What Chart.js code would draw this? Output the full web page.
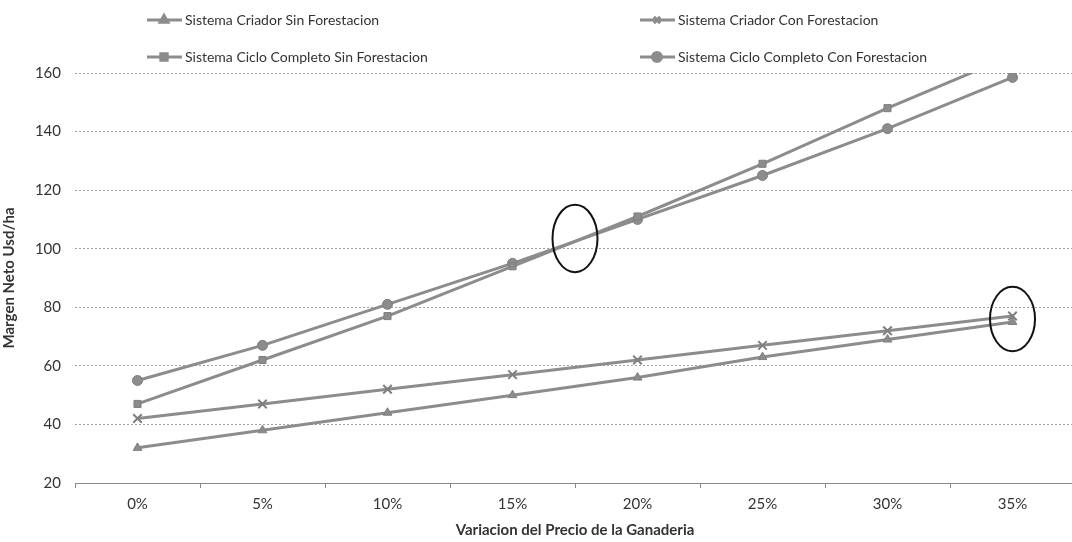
<!DOCTYPE html>
<html>
<head>
<meta charset="utf-8">
<script src="https://cdn.jsdelivr.net/npm/chart.js@4/dist/chart.umd.min.js"></script>
<style>
  html, body { margin: 0; padding: 0; background: #fff; overflow: hidden; }
  #wrap { width: 1083px; height: 542px; }
</style>
</head>
<body>
<div id="wrap"><canvas id="myChart"></canvas></div>
<script>
// categorias (eje x)
const categorias = ['0%', '5%', '10%', '15%', '20%', '25%', '30%', '35%'];

// series
const criadorSin = [32, 38, 44, 50, 56, 63, 69, 75];
const criadorCon = [42, 47, 52, 57, 62, 67, 72, 77];
const cicloSin = [47, 62, 77, 94, 111, 129, 148, 166];
const cicloCon = [55, 67, 81, 95, 110, 125, 141, 158.5];

const nombres = [
    'Sistema Criador Sin Forestacion',
    'Sistema Criador Con Forestacion',
    'Sistema Ciclo Completo Sin Forestacion',
    'Sistema Ciclo Completo Con Forestacion'
];

// elipses marcadas en el grafico: [indice x, valor y, radio x (categorias), radio y (valor)]
const elipses = [
    [3.5, 103.5, 0.18, 11.5],
    [7, 76, 0.18, 11]
];

const gris = '#8c8c8c';
const fuente = 'Lato, "Open Sans", sans-serif';

function serie(label, data, estilo) {
    return {
        label: label,
        data: data,
        borderColor: gris,
        backgroundColor: gris,
        borderWidth: 3,
        pointStyle: estilo,
        pointRadius: estilo === 'crossRot' ? 6 : 5,
        pointBorderWidth: estilo === 'crossRot' ? 2 : 1,
        pointBorderColor: '#7f7f7f',
        tension: 0
    };
}

// leyenda en dos columnas
const leyenda = {
    id: 'leyenda',
    afterDraw(chart) {
        const ctx = chart.ctx;
        const cols = [147, 640];
        const filas = [20, 57];
        chart.data.datasets.forEach((ds, i) => {
            const x = cols[i % 2];
            const y = filas[Math.floor(i / 2)];
            ctx.save();
            ctx.strokeStyle = gris;
            ctx.lineWidth = 3;
            ctx.beginPath();
            ctx.moveTo(x, y);
            ctx.lineTo(x + 35, y);
            ctx.stroke();
            ctx.fillStyle = gris;
            Chart.helpers.drawPoint(ctx, {
                pointStyle: ds.pointStyle,
                radius: 4.5,
                rotation: 0,
                borderWidth: ds.pointStyle === 'crossRot' ? 1.5 : 1
            }, x + 17, y);
            ctx.fillStyle = '#333';
            ctx.font = '14px ' + fuente;
            ctx.textBaseline = 'middle';
            ctx.fillText(ds.label, x + 38, y);
            ctx.restore();
        });
    }
};

const elipsesPlugin = {
    id: 'elipses',
    afterDatasetsDraw(chart) {
        const ctx = chart.ctx;
        const xs = chart.scales.x, ys = chart.scales.y;
        const paso = xs.getPixelForValue(1) - xs.getPixelForValue(0);
        ctx.save();
        ctx.strokeStyle = '#111';
        ctx.lineWidth = 2;
        for (const e of elipses) {
            const cx = xs.getPixelForValue(e[0]);
            const cy = ys.getPixelForValue(e[1]);
            const rx = e[2] * paso;
            const ry = Math.abs(ys.getPixelForValue(e[1] + e[3]) - cy);
            ctx.beginPath();
            ctx.ellipse(cx, cy, rx, ry, 0, 0, Math.PI * 2);
            ctx.stroke();
        }
        ctx.restore();
    }
};

const config = {
    type: 'line',
    data: {
        labels: categorias,
        datasets: [
            serie(nombres[0], criadorSin, 'triangle'),
            serie(nombres[1], criadorCon, 'crossRot'),
            serie(nombres[2], cicloSin, 'rect'),
            serie(nombres[3], cicloCon, 'circle')
        ]
    },
    options: {
        responsive: true,
        maintainAspectRatio: false,
        animation: false,
        layout: { padding: { top: 73, left: 0, right: 0, bottom: 0 } },
        scales: {
            x: {
                offset: true,
                grid: {
                    offset: true,
                    drawOnChartArea: false,
                    drawTicks: true,
                    tickLength: 5,
                    color: '#888'
                },
                border: { display: true, color: '#888', width: 1 },
                ticks: {
                    color: '#333',
                    padding: 7,
                    font: { family: fuente, size: 15 }
                },
                title: {
                    display: true,
                    text: 'Variacion del Precio de la Ganaderia',
                    color: '#333',
                    font: { family: fuente, size: 15, weight: 'bold' },
                    padding: { top: 0, bottom: 3 }
                },
                afterFit(scale) { scale.height = 59; }
            },
            y: {
                min: 20,
                max: 160,
                ticks: {
                    stepSize: 20,
                    color: '#333',
                    padding: 14,
                    font: { family: fuente, size: 15 }
                },
                grid: {
                    drawTicks: false,
                    color: '#a0a0a0',
                    lineWidth: 1
                },
                border: { display: false, dash: [2, 2] },
                title: {
                    display: true,
                    text: 'Margen Neto Usd/ha',
                    color: '#333',
                    font: { family: fuente, size: 15, weight: 'bold' },
                    padding: { top: 0, bottom: 0 }
                },
                afterFit(scale) { scale.width = 75; }
            }
        },
        plugins: {
            legend: { display: false },
            tooltip: { enabled: false }
        }
    },
    plugins: [leyenda, elipsesPlugin]
};

new Chart(document.getElementById('myChart'), config);
</script>
</body>
</html>
